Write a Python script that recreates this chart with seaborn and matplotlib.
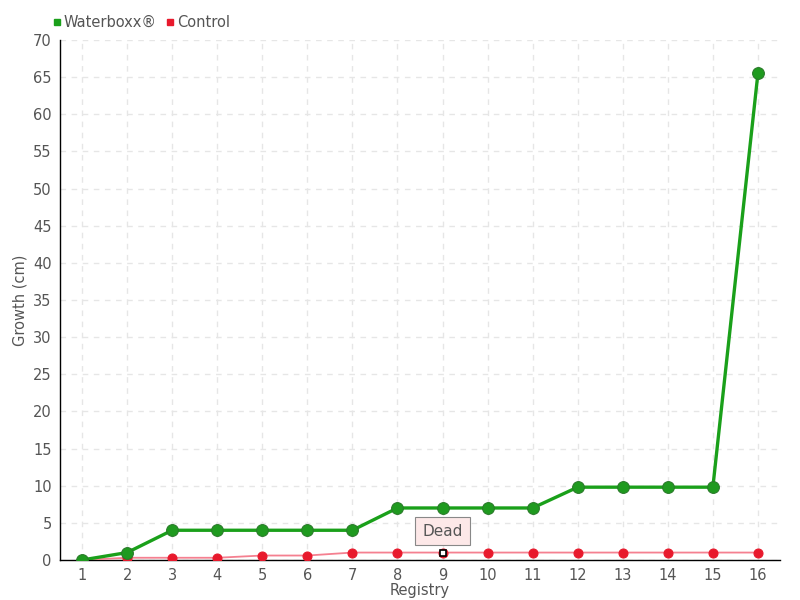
import seaborn as sns
import pandas as pd
import matplotlib.pyplot as plt
from matplotlib.lines import Line2D

registry = list(range(1, 17))
waterboxx = [0, 1, 4, 4, 4, 4, 4, 7, 7, 7, 7, 9.8, 9.8, 9.8, 9.8, 65.5]
control = [0, 0.3, 0.3, 0.3, 0.6, 0.6, 1, 1, 1, 1, 1, 1, 1, 1, 1, 1]

df = pd.DataFrame({'Registry': registry, 'Waterboxx': waterboxx, 'Control': control})

sns.set_style('white')
plt.rcParams['font.family'] = ['DejaVu Sans']
txt = '#555555'

fig = plt.figure(figsize=(8, 6), dpi=100)
ax = fig.add_axes([0.075, 0.0667, 0.9, 0.8667])

sns.lineplot(x='Registry', y='Control', data=df, ax=ax, color='#f58090', lw=1.3,
             marker='o', markersize=6.5, markerfacecolor='#e8192c', markeredgecolor='#e8192c', zorder=3)
sns.lineplot(x='Registry', y='Waterboxx', data=df, ax=ax, color='#1aa01a', lw=2.4,
             marker='o', markersize=8.5, markerfacecolor='#1f9a1f', markeredgecolor='#2a7a2a', zorder=4)

# dead marker at registry 9
ax.plot(registry[8], control[8], marker='s', markersize=5, markerfacecolor='white',
        markeredgecolor='black', markeredgewidth=1.2, zorder=5)
ax.annotate('Dead', xy=(registry[8], control[8]), xytext=(registry[8], 3.9),
            ha='center', va='center', fontsize=11, color=txt,
            bbox=dict(boxstyle='square,pad=0.45', fc='#fde8e8', ec='#888888', lw=0.8), zorder=6)

ax.set_xlim(0.51, 16.49)
ax.set_ylim(0, 70)
ax.set_xticks(registry)
ax.set_yticks(range(0, 71, 5))
ax.grid(True, color='#e6e6e6', ls=(0, (4, 4)), lw=1)
ax.tick_params(axis='both', colors='#333333', labelcolor=txt, labelsize=10.5,
               direction='out', length=4, width=1, pad=2)
for s in ['top', 'right']:
    ax.spines[s].set_visible(False)
for s in ['left', 'bottom']:
    ax.spines[s].set_color('black')
    ax.spines[s].set_linewidth(1)

ax.set_xlabel('Registry', color=txt, fontsize=10.5)
ax.xaxis.set_label_coords(0.5, -0.045)
ax.set_ylabel('Growth (cm)', color=txt, fontsize=10.5)
ax.yaxis.set_label_coords(-0.045, 0.5)

handles = [Line2D([], [], ls='none', marker='s', markersize=5, color='#1aa01a'),
           Line2D([], [], ls='none', marker='s', markersize=5, color='#e8192c')]
leg = ax.legend(handles, ['Waterboxx®', 'Control'], loc='lower left', bbox_to_anchor=(-0.025, 1.0),
                ncol=2, frameon=False, fontsize=10.5, handlelength=0.6, handletextpad=0.2,
                columnspacing=0.6, borderpad=0.2)
for t in leg.get_texts():
    t.set_color(txt)

fig.savefig('out.png', dpi=100)
